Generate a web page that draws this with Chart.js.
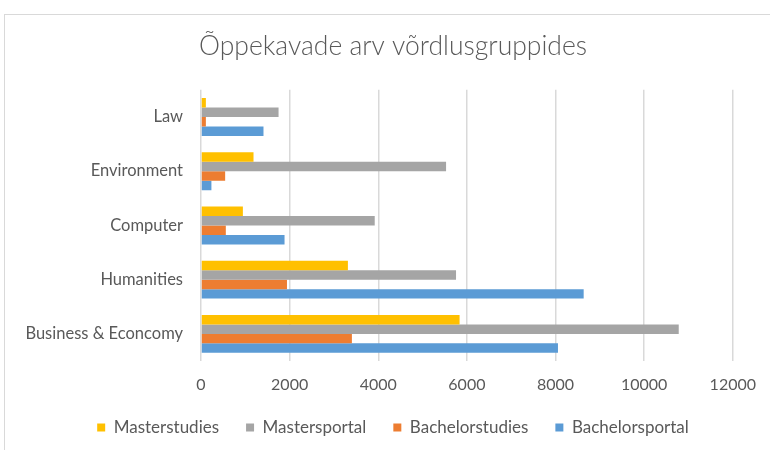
<!DOCTYPE html>
<html>
<head>
<meta charset="utf-8">
<script src="https://cdn.jsdelivr.net/npm/chart.js@4/dist/chart.umd.min.js"></script>
<style>
  html, body { margin: 0; padding: 0; background: #ffffff; overflow: hidden; }
  #wrap { position: absolute; left: 0; top: 0; width: 770px; height: 450px; }
  #frame { position: absolute; left: 4px; top: 14px; width: 820px; height: 520px; border: 1px solid #d9d9d9; box-sizing: border-box; }
  canvas { position: absolute; left: 0; top: 0; }
</style>
</head>
<body>
<div id="wrap">
  <div id="frame"></div>
  <canvas id="c" width="770" height="450"></canvas>
</div>
<script>
const categories = ['Law', 'Environment', 'Computer', 'Humanities', 'Business & Econcomy'];
const seriesNames = ['Masterstudies', 'Mastersportal', 'Bachelorstudies', 'Bachelorsportal'];
const masterstudies = [110, 1185, 945, 3315, 5835];
const mastersportal = [1750, 5530, 3920, 5755, 10780];
const bachelorstudies = [110, 545, 560, 1940, 3405];
const bachelorsportal = [1410, 235, 1885, 8635, 8055];
const seriesColors = ['#FFC000', '#A5A5A5', '#ED7D31', '#5B9BD5'];
const xMin = 0, xMax = 12000, xStep = 2000;
const titleText = 'Õppekavade arv võrdlusgruppides';

const FONT = 'Lato, "Open Sans", "Liberation Sans", sans-serif';
const TXT = '#595959';

const allSeries = [masterstudies, mastersportal, bachelorstudies, bachelorsportal];
const datasets = allSeries.map((vals, i) => ({
  label: seriesNames[i],
  data: vals,
  backgroundColor: seriesColors[i],
  borderWidth: 0,
  barPercentage: 1.0,
  categoryPercentage: 0.7
}));

new Chart(document.getElementById('c'), {
  type: 'bar',
  data: { labels: categories, datasets: datasets },
  options: {
    indexAxis: 'y',
    responsive: false,
    animation: false,
    events: [],
    layout: { padding: { left: 16, right: 0, top: 0, bottom: 4 } },
    plugins: {
      title: {
        display: true,
        text: titleText,
        color: TXT,
        font: { family: FONT, size: 26.5, weight: 300, lineHeight: 1.2 },
        padding: { top: 31, bottom: 27 }
      },
      legend: {
        position: 'bottom',
        labels: {
          color: TXT,
          font: { family: FONT, size: 17 },
          boxWidth: 8,
          boxHeight: 8,
          padding: 27
        }
      },
      tooltip: { enabled: false }
    },
    scales: {
      x: {
        min: xMin,
        max: xMax,
        ticks: {
          stepSize: xStep, color: TXT, font: { family: FONT, size: 16 }, padding: 14,
          callback: (v) => String(v)
        },
        grid: { color: '#d9d9d9', lineWidth: 1.5, drawTicks: false },
        border: { display: false },
        afterFit: (s) => { s.height = 31; }
      },
      y: {
        ticks: { color: TXT, font: { family: FONT, size: 16.5 }, padding: 18 },
        grid: { display: false, drawTicks: false },
        border: { display: false },
        afterFit: (s) => { s.width = 185; }
      },
      yRight: {
        type: 'category',
        position: 'right',
        display: true,
        ticks: { display: false },
        grid: { display: false, drawTicks: false },
        border: { display: false },
        afterFit: (s) => { s.width = 37; }
      }
    }
  }
});
</script>
</body>
</html>
